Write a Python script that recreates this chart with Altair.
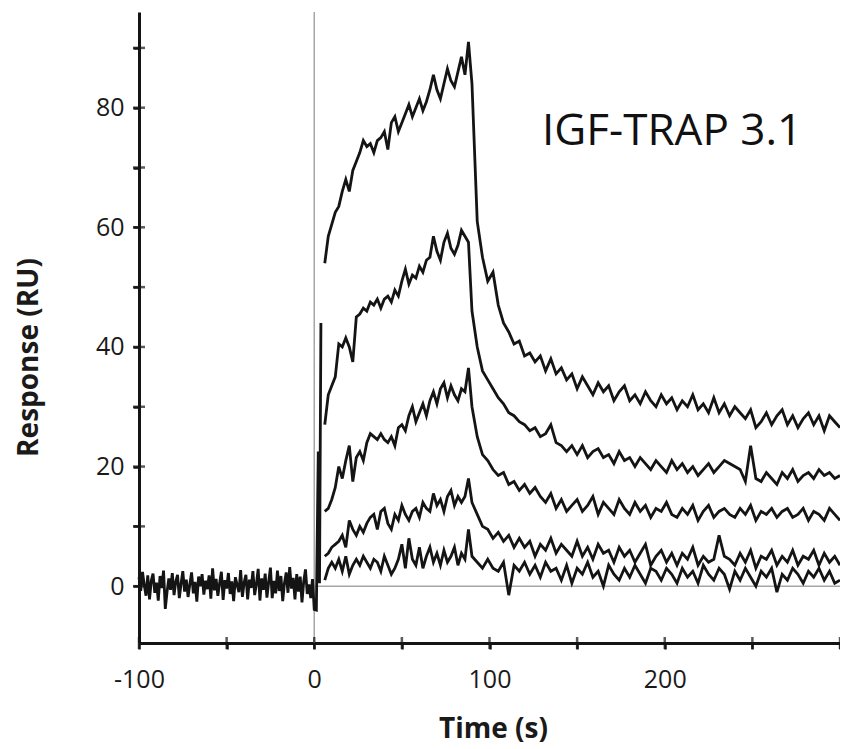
import altair as alt
import pandas as pd

# ---------------- data ----------------
# baseline before injection (t = -100 .. 0, every 1 s) + injection spike
base_t = [-100 + i for i in range(101)] + [1.2, 2.3, 3.0, 3.8]
base_v = [1.5, -0.8, 2.4, 0.2, -1.6, 1.8, -2.2, 0.9, 2.1, -1.1,
          0.6, -2.4, 1.7, -0.3, 2.6, -3.8, -1.0, 1.3, -0.6, 2.2,
          -1.5, 0.8, 1.9, -2.0, 0.4, 2.5, -0.9, 1.1, -1.8, 0.3,
          2.3, -1.2, 0.7, -2.6, 1.6, 0.0, 2.0, -1.4, 0.9, -0.5,
          1.8, -2.1, 3.0, -0.7, 1.2, -1.6, 0.5, 2.4, -2.3, 1.0,
          -0.4, 2.2, -1.3, 0.8, -2.5, 1.5, 0.2, -1.0, 2.7, -1.8,
          0.6, 1.9, -2.2, 1.1, -0.3, 2.5, -1.5, 0.4, 2.9, -2.4,
          1.3, -0.6, 2.1, -1.9, 0.7, 3.1, -2.0, 0.9, -1.2, 2.6,
          -0.8, 1.7, -2.5, 0.5, 2.3, -1.1, 3.2, -0.4, 1.4, -2.2,
          2.0, -0.9, 1.6, -2.7, 0.8, 2.8, -1.3, 0.3, -2.0, 1.2,
          -3.9,
          -4.0, 22.5, 0.5, 44.0]

assoc_t = list(range(6, 89, 2))     # association phase, 6..88 s
diss_t = list(range(90, 301, 3))    # dissociation phase, 90..300 s

c1_assoc = [54, 58.5, 60.5, 62.5, 63.5, 66, 68, 66, 69.5, 71,
            72.5, 74.5, 73.5, 74, 72.5, 74.5, 75, 76, 73, 77.5,
            78.5, 76, 77.5, 79, 80.5, 78.5, 80, 81.5, 79.5, 81,
            83, 85.5, 83, 81.5, 84, 86.5, 84.5, 83.5, 86, 88.5,
            85.5, 91]
c1_diss = [84, 61, 55, 51, 52.5, 47, 44, 42.5, 40.5, 41,
           38.5, 39, 37.5, 38.5, 36, 38, 35.5, 36.5, 34.5, 35.5,
           33, 35, 33.5, 32, 34, 32.5, 33.5, 31, 32.5, 33.5,
           31, 32, 30.5, 32.5, 31, 30, 32, 30.5, 31.5, 29.5,
           31, 30, 32, 29.5, 30.5, 29, 31.5, 29, 30.5, 28.5,
           30, 29, 28, 29.5, 26.5, 27.5, 29, 27, 28.5, 29.5,
           27, 28.5, 26.5, 28, 29, 27, 28.5, 26, 28.5, 27.5,
           26.5]

c2_assoc = [27, 32, 33.5, 35, 40.5, 40, 41.5, 40, 37.5, 45,
            45.5, 46.5, 46, 47.5, 47, 48, 46.5, 48, 48.5, 47.5,
            49.5, 48.5, 51, 53, 50.5, 52, 51.5, 53.5, 52.5, 54.5,
            55, 58.5, 56, 54.5, 57.5, 59, 56.5, 55.5, 57, 59.5,
            58.5, 57.5]
c2_diss = [46, 40, 36, 34.5, 33, 31.5, 30.5, 29, 28.5, 27.5,
           27, 26, 26.5, 25, 25.5, 27, 24, 23.5, 22.5, 23.5,
           22, 23.5, 21.5, 22.5, 23, 21.5, 22, 20.5, 22.5, 21,
           21.5, 20, 21.5, 20.5, 19.5, 21, 20, 19, 21, 19.5,
           20.5, 19, 20, 18.5, 19.5, 20.5, 19, 20, 21, 20.5,
           20, 19.5, 17.5, 23.5, 18, 17.5, 19, 18, 17, 19,
           18, 19.5, 17.5, 18.5, 19, 18, 19.5, 18.5, 19, 18,
           18.5]

c3_assoc = [12.5, 13, 14.5, 16.5, 20, 18, 21, 23.5, 17.5, 21.5,
            22.5, 21, 24, 25.5, 25, 24.5, 25.5, 24.5, 24, 25,
            23.5, 26.5, 27, 26, 28.5, 30, 27.5, 29, 30.5, 28.5,
            31, 32.5, 30.5, 33, 34, 31.5, 33.5, 32, 31, 33,
            32.5, 36.5]
c3_diss = [30, 25, 22, 21, 19.5, 18.5, 19, 17, 17.5, 16,
           17, 15.5, 16.5, 15, 14, 15.5, 13, 14.5, 12.5, 13.5,
           14.5, 12.5, 13.5, 15, 12, 14, 13, 12, 14.5, 13,
           12, 14, 12.5, 13.5, 11.5, 13, 12.5, 14, 12, 11.5,
           13, 12, 13.5, 11, 12.5, 13.5, 11.5, 12.5, 13, 12,
           11.5, 13, 12, 13.5, 11, 12.5, 12, 13, 11.5, 12.5,
           13, 11.5, 12, 13, 11, 12.5, 12, 11, 13, 12,
           11]

c4_assoc = [5, 5.5, 6.5, 7, 7.5, 8.5, 6.5, 11, 9.5, 8.5,
            10, 9, 10.5, 11.5, 12, 9.5, 12.5, 13, 10.5, 9.5,
            12, 11, 13.5, 12, 11, 12.5, 13, 11.5, 14, 13,
            12.5, 15.5, 13.5, 14.5, 12.5, 15, 16, 13.5, 15, 14,
            15, 18]
c4_diss = [14, 12, 10, 9.5, 8, 9, 7.5, 8.5, 6.5, 8,
           6.5, 7.5, 5, 7, 6, 8, 5.5, 7, 6, 5,
           7.5, 5, 6.5, 4.5, 7, 5.5, 6, 4, 6.5, 5,
           6, 4, 5.5, 7, 3.5, 5, 6, 4, 5.5, 3.5,
           5.5, 4.5, 6.5, 3.5, 5, 4, 4.5, 8.5, 5, 4.5,
           3.5, 5.5, 4, 6, 3, 5, 4.5, 6, 3.5, 5,
           4, 6, 3.5, 5, 4.5, 6, 3.5, 5.5, 4, 5,
           3.5]

c5_assoc = [1, 3, 4, 3, 4.5, 2.5, 5, 2, 3.5, 4.5,
            3.5, 5, 4, 3, 4.5, 4, 2.5, 5, 3.5, 2,
            3, 4.5, 7, 3, 8, 4.5, 3.5, 6.5, 3, 5,
            6.5, 4, 5.5, 3.5, 6, 4, 5, 6.5, 3.5, 5.5,
            4.5, 9.5]
c5_diss = [5, 4, 3, 4.5, 3, 2.5, 4, -1.5, 3.5, 2.5,
           4, 2, 3.5, 1.5, 4, 2.5, 3, 1, 3.5, 0.5,
           3, 2, 4, 1.5, 2.5, 0, 3.5, 2, 1, 3,
           1.5, 3.5, 2, 0.5, 3, 2.5, 1, 3, 2, 0.5,
           3, 1.5, 2.5, 0.5, 3.5, 2, 1, 3, 2, -0.5,
           2.5, 1, 3, 1.5, 0, 2.5, 1.5, 3, -1, 2,
           1, 3, 2, 0.5, 2.5, 1.5, 3, 1, 2.5, 0.5,
           1]

curves = {
    "c1": (c1_assoc, c1_diss),
    "c2": (c2_assoc, c2_diss),
    "c3": (c3_assoc, c3_diss),
    "c4": (c4_assoc, c4_diss),
    "c5": (c5_assoc, c5_diss),
}

y_ticks = [0, 10, 20, 30, 40, 50, 60, 70, 80, 90]
x_ticks = [-100, -50, 0, 50, 100, 150, 200, 250, 300]
label_text = ["IGF-TRAP 3.1"]
label_t = [130]
label_v = [76]

# ---------------- table ----------------
rows = []
for t, v in zip(base_t, base_v):
    rows.append({"t": t, "v": v, "seg": "base"})
for name, (a, d) in curves.items():
    for t, v in zip(assoc_t, a):
        rows.append({"t": t, "v": v, "seg": name})
    for t, v in zip(diss_t, d):
        rows.append({"t": t, "v": v, "seg": name})
df = pd.DataFrame(rows)

FONT = "Open Sans"
X_DOM = [-100, 300]
Y_DOM = [-9.5, 96]
INK = "#141414"

xs = alt.Scale(domain=X_DOM, nice=False, zero=False)
ys = alt.Scale(domain=Y_DOM, nice=False, zero=False)

x_axis = alt.Axis(
    values=x_ticks, title="Time (s)",
    labelExpr="datum.value < 300 && datum.value % 100 == 0 ? toString(datum.value) : ''",
    labelFont=FONT, labelFontSize=25, labelColor="#1a1a1a", labelPadding=18,
    labelFlush=False, labelOverlap=False,
    titleFont=FONT, titleFontSize=28, titleFontWeight="bold", titleColor="#1a1a1a",
    titleX=354, titleY=86, titleBaseline="middle", titleAnchor="start", titleAlign="center",
    domainColor=INK, domainWidth=3,
    tickColor=INK, tickWidth=2.5, tickSize=6,
    grid=False,
)
y_axis = alt.Axis(
    values=y_ticks, title="Response (RU)",
    labelExpr="datum.value % 20 == 0 ? toString(datum.value) : ''",
    labelFont=FONT, labelFontSize=25, labelColor="#1a1a1a", labelPadding=9,
    labelOverlap=False, labelFlush=False,
    titleFont=FONT, titleFontSize=28, titleFontWeight="bold", titleColor="#1a1a1a",
    titleX=-110, titleY=345, titleAngle=270, titleAlign="center", titleBaseline="middle",
    titleAnchor="start",
    domainColor=INK, domainWidth=3,
    tickColor=INK, tickWidth=2.5, tickSize=6,
    grid=False,
)

zero_df = pd.DataFrame({"z": [0], "end": [300]})

vrule = alt.Chart(zero_df).mark_rule(color="#a6a6a6", strokeWidth=1.5).encode(
    x=alt.X("z:Q", scale=xs, axis=x_axis),
)
hrule = alt.Chart(zero_df).mark_rule(color="#a6a6a6", strokeWidth=1.5).encode(
    y=alt.Y("z:Q", scale=ys, axis=y_axis),
    x=alt.X("z:Q", scale=xs),
    x2="end:Q",
)

lines = alt.Chart(df).mark_line(color=INK, strokeWidth=2.8, strokeJoin="miter").encode(
    x=alt.X("t:Q", scale=xs),
    y=alt.Y("v:Q", scale=ys),
    detail="seg:N",
    order="t:Q",
)

ytick_df = pd.DataFrame({"v": y_ticks})
xtick_df = pd.DataFrame({"t": x_ticks})
yt = alt.Chart(ytick_df).mark_tick(orient="horizontal", size=12, thickness=2.5, color=INK).encode(
    y=alt.Y("v:Q", scale=ys),
    x=alt.datum(X_DOM[0], scale=xs),
)
xt = alt.Chart(xtick_df).mark_tick(orient="vertical", size=12, thickness=2.5, color=INK).encode(
    x=alt.X("t:Q", scale=xs),
    y=alt.datum(Y_DOM[0], scale=ys),
)

txt_df = pd.DataFrame({"t": label_t, "v": label_v, "s": label_text})
txt = alt.Chart(txt_df).mark_text(
    font=FONT, fontSize=44, align="left", baseline="middle", color="#111111"
).encode(
    x=alt.X("t:Q", scale=xs),
    y=alt.Y("v:Q", scale=ys),
    text="s:N",
)

chart = alt.layer(vrule, hrule, lines, yt, xt, txt).properties(
    width=701, height=631,
    autosize=alt.AutoSizeParams(type="none"),
    padding={"left": 131, "top": 4, "right": 0, "bottom": 104},
    background="white",
).configure_view(stroke=None)

chart.save("out.html", embed_options={"renderer": "svg", "actions": False})
